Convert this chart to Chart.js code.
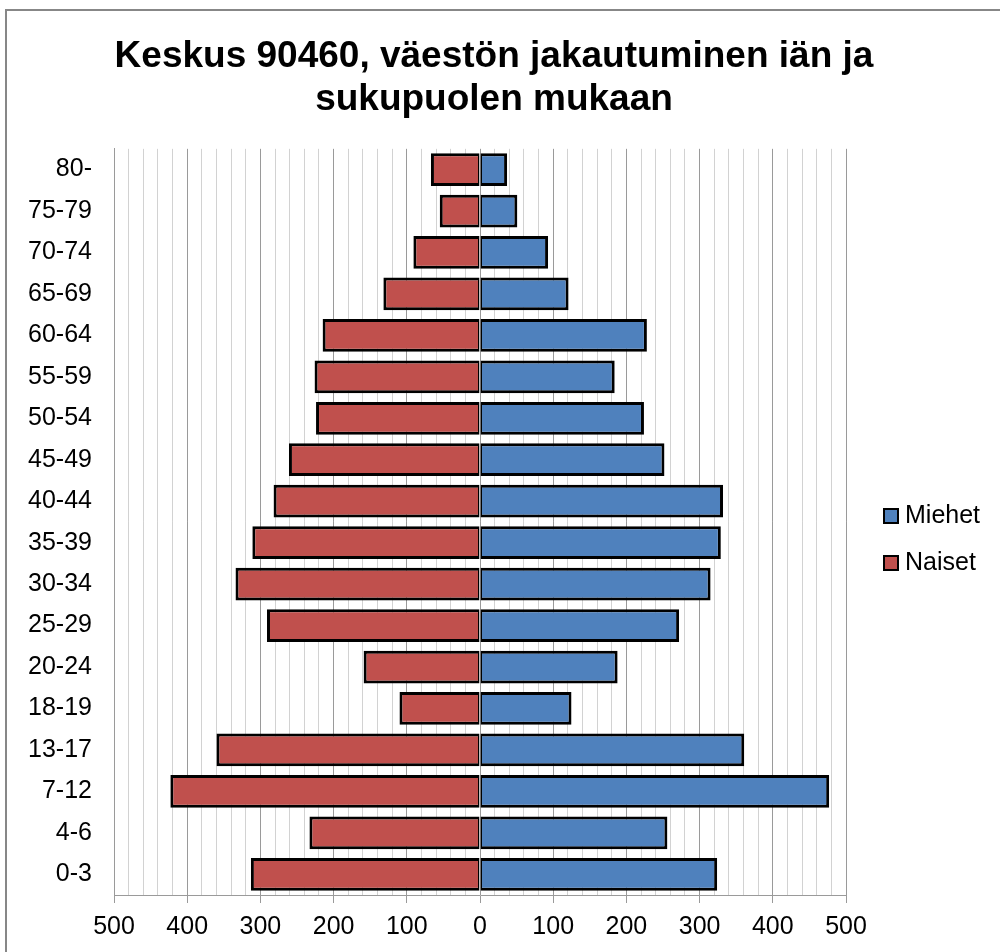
<!DOCTYPE html>
<html>
<head>
<meta charset="utf-8">
<script src="https://cdn.jsdelivr.net/npm/chart.js@4"></script>
<style>
  html, body { margin: 0; padding: 0; background: #fff; overflow: hidden; }
  #wrap { position: relative; width: 1000px; height: 952px; }
  #frame { position: absolute; left: 5px; top: 9px; width: 2000px; height: 2000px;
           border-top: 2px solid #878787; border-left: 2px solid #878787; }
  #c { position: absolute; left: 0; top: 0; }
  .lg-item { position: absolute; left: 883px; font: 25px "Liberation Sans", Arial, sans-serif; color: #000; line-height: 25px; white-space: nowrap; }
  .lg-box { position: absolute; left: 0; width: 12px; height: 12px; border: 2px solid #000; }
  .lg-text { position: absolute; left: 22px; top: 0; }
</style>
</head>
<body>
<div id="wrap">
  <div id="frame"></div>
  <canvas id="c" width="1000" height="952"></canvas>
  <div id="legend"></div>
</div>
<script>
// ---- data (top row first) ----
const categories = ['80-','75-79','70-74','65-69','60-64','55-59','50-54','45-49','40-44','35-39','30-34','25-29','20-24','18-19','13-17','7-12','4-6','0-3'];
const miehet = [37, 51, 93, 121, 228, 184, 224, 252, 332, 329, 315, 272, 188, 125, 361, 477, 256, 324];
const naiset = [67, 55, 91, 132, 215, 226, 224, 261, 282, 311, 334, 291, 159, 110, 360, 423, 233, 313];
const seriesNames = ['Miehet', 'Naiset'];
const seriesColors = ['#4F81BD', '#C0504D'];
const titleLines = ['Keskus 90460, väestön jakautuminen iän ja', 'sukupuolen mukaan'];
const xMin = -500, xMax = 500, minorStep = 20, majorStep = 100;

Chart.defaults.font.family = '"Liberation Sans", Arial, sans-serif';
Chart.defaults.color = '#000';

const chart = new Chart(document.getElementById('c'), {
  type: 'bar',
  data: {
    labels: categories,
    datasets: [
      {
        label: seriesNames[0],
        data: miehet,
        backgroundColor: seriesColors[0],
        borderColor: '#000',
        borderWidth: {top: 3, bottom: 3, left: 1.5, right: 3},
        borderSkipped: false,
        barPercentage: 0.79,
        categoryPercentage: 1
      },
      {
        label: seriesNames[1],
        data: naiset.map(v => -v),
        backgroundColor: seriesColors[1],
        borderColor: '#000',
        borderWidth: {top: 3, bottom: 3, left: 3, right: 1.5},
        borderSkipped: false,
        barPercentage: 0.79,
        categoryPercentage: 1
      }
    ]
  },
  options: {
    indexAxis: 'y',
    responsive: false,
    animation: false,
    devicePixelRatio: 1,
    layout: { padding: { left: 0, right: 12, top: 10, bottom: 0 } },
    plugins: {
      legend: { display: false },
      tooltip: { enabled: false },
      title: {
        display: true,
        text: titleLines,
        font: { size: 37, weight: 'bold', lineHeight: 1.16 },
        color: '#000',
        padding: { top: 25, bottom: 28 }
      }
    },
    scales: {
      x: {
        type: 'linear',
        min: xMin,
        max: xMax,
        stacked: true,
        grid: {
          color: ctx => (ctx.tick && ctx.tick.value % majorStep === 0) ? '#9a9a9a' : '#d2d2d2',
          tickColor: ctx => (ctx.tick && ctx.tick.value % majorStep === 0) ? '#9a9a9a' : 'rgba(0,0,0,0)',
          lineWidth: 1,
          tickLength: 8,
          drawTicks: true
        },
        border: { display: true, color: '#9a9a9a', width: 1 },
        ticks: {
          stepSize: minorStep,
          maxTicksLimit: 100,
          autoSkip: false,
          maxRotation: 0,
          padding: 12,
          font: { size: 25, lineHeight: 1 },
          color: '#000',
          callback: v => (v % majorStep === 0) ? String(Math.abs(v)) : ''
        }
      },
      y: {
        type: 'category',
        stacked: true,
        position: 'left',
        grid: { display: false, drawTicks: false },
        border: { display: true, color: '#9a9a9a', width: 1 },
        ticks: { padding: 22, font: { size: 25 }, color: '#000' },
        afterFit: s => { s.width = 114; }
      },
      yRight: {
        type: 'linear',
        position: 'right',
        display: true,
        grid: { display: false, drawTicks: false },
        border: { display: false },
        ticks: { display: false },
        afterFit: s => { s.width = 142; }
      }
    }
  }
});

// HTML legend built from the chart's datasets
const legendEl = document.getElementById('legend');
const legendTops = [502, 549];
chart.data.datasets.forEach((ds, i) => {
  const item = document.createElement('div');
  item.className = 'lg-item';
  item.style.top = legendTops[i] + 'px';
  const box = document.createElement('div');
  box.className = 'lg-box';
  box.style.top = '6px';
  box.style.background = ds.backgroundColor;
  const txt = document.createElement('span');
  txt.className = 'lg-text';
  txt.textContent = ds.label;
  item.appendChild(box);
  item.appendChild(txt);
  legendEl.appendChild(item);
});
</script>
</body>
</html>
